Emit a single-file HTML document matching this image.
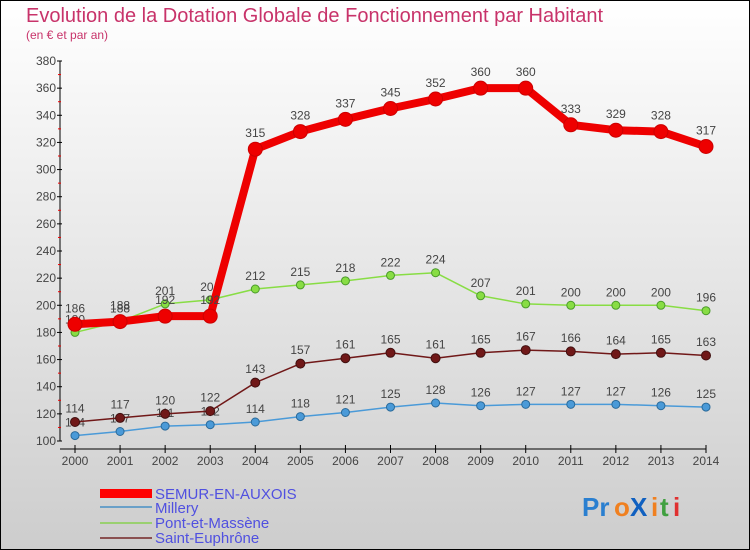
<!DOCTYPE html>
<html><head><meta charset="utf-8"><style>
body{margin:0}
#wrap{width:750px;height:550px;position:relative;overflow:hidden;font-family:"Liberation Sans",sans-serif}
</style></head><body>
<div id="wrap">
<svg id="svg" width="750" height="550" xmlns="http://www.w3.org/2000/svg">
<defs><linearGradient id="bg" x1="0" y1="0" x2="0" y2="1"><stop offset="0" stop-color="#ffffff"/><stop offset="1" stop-color="#cdcdcd"/></linearGradient></defs>
<rect x="0.5" y="0.5" width="749" height="549" fill="url(#bg)" stroke="#000"/>
<text x="26" y="22" font-size="20" fill="#c8336a">Evolution de la Dotation Globale de Fonctionnement par Habitant</text>
<text x="26" y="39" font-size="12" fill="#c8336a">(en € et par an)</text>
<g id="axes"></g><g id="series"></g>
<g>
<rect x="100" y="489" width="52" height="9" fill="#f00"/>
<text x="155" y="499" font-size="15" fill="#5050e0">SEMUR-EN-AUXOIS</text>
<rect x="100" y="506" width="52" height="2" fill="#6aa0c8"/>
<text x="155" y="513" font-size="15" fill="#5050e0">Millery</text>
<rect x="100" y="522" width="52" height="2" fill="#9ad070"/>
<text x="155" y="528" font-size="15" fill="#5050e0">Pont-et-Massène</text>
<rect x="100" y="537" width="52" height="2" fill="#8a5050"/>
<text x="155" y="543" font-size="15" fill="#5050e0">Saint-Euphrône</text>
</g>
<g font-size="26" font-weight="bold">
<text x="582" y="516" fill="#2a7fd0">Pr</text><text x="614" y="516" fill="#f08020">o</text><text x="630" y="516" fill="#1060c0">X</text><text x="651" y="516" fill="#f08020">i</text><text x="660" y="516" fill="#40a040">t</text><text x="673" y="516" fill="#e03030">i</text>
</g>
</svg>
</div>
<script>
const years=[2000,2001,2002,2003,2004,2005,2006,2007,2008,2009,2010,2011,2012,2013,2014];
const semur=[186,188,192,192,315,328,337,345,352,360,360,333,329,328,317];
const millery=[104,107,111,112,114,118,121,125,128,126,127,127,127,126,125];
const pont=[180,188,201,204,212,215,218,222,224,207,201,200,200,200,196];
const saint=[114,117,120,122,143,157,161,165,161,165,167,166,164,165,163];
const yTicks=[100,120,140,160,180,200,220,240,260,280,300,320,340,360,380];
const NS="http://www.w3.org/2000/svg";
const x0=75,x1=706,yMin=100,yMax=380,yb=441,yt=61;
function xs(i){return x0+(x1-x0)*i/(years.length-1);}
function ys(v){return yb-(v-yMin)*(yb-yt)/(yMax-yMin);}
function mk(tag,attrs,parent){const e=document.createElementNS(NS,tag);for(const k in attrs)e.setAttribute(k,attrs[k]);parent.appendChild(e);return e;}
const ax=document.getElementById('axes');
const yl=mk('line',{x1:60,y1:yt,x2:60,y2:yb,stroke:'#000'},ax);


const xl=mk('line',{x1:60,y1:yb+8,x2:x1,y2:yb+8,stroke:'#000'},ax);


yTicks.forEach((v,i)=>{
  const y=ys(v);
  mk('line',{x1:57,y1:y,x2:62,y2:y,stroke:'#000'},ax);
  if(i<yTicks.length-1){mk('line',{x1:58,y1:ys(v+10),x2:61,y2:ys(v+10),stroke:'#e00'},ax);}
  const t=mk('text',{x:56,y:y+4,'font-size':12,fill:'#444','text-anchor':'end'},ax);
  t.textContent=v;
  
  
});
years.forEach((yr,i)=>{
  const x=xs(i);
  mk('line',{x1:x,y1:yb+4,x2:x,y2:yb+12,stroke:'#000'},ax);
  const t=mk('text',{x:x,y:yb+24,'font-size':12,fill:'#444','text-anchor':'middle'},ax);
  t.textContent=yr;
  
  
});
const sg=document.getElementById('series');
function draw(name,vals,color,dark,w,r){
  const g=mk('g',{},sg);
  
  
  const pts=vals.map((v,i)=>xs(i)+','+ys(v)).join(' ');
  const l=mk('polyline',{points:pts,fill:'none',stroke:color,'stroke-width':w,'stroke-linejoin':'round'},g);
  
  
  vals.forEach((v,i)=>{
    const c=mk('circle',{cx:xs(i),cy:ys(v),r:r,fill:color,stroke:dark,'stroke-width':1},g);
    
    
    const t=mk('text',{x:xs(i),y:ys(v)-(r+5),'font-size':12,fill:'#444','text-anchor':'middle'},g);
    t.textContent=v;
    
    
  });
}
draw('millery',millery,'#4a9ad8','#2a6a9a',1.5,4);
draw('saint',saint,'#701818','#401010',1.5,4.5);
draw('pont',pont,'#88dd44','#4a9a2a',1.5,4);
draw('semur',semur,'#ee0000','#cc0000',8,7);
</script>
</body></html>
